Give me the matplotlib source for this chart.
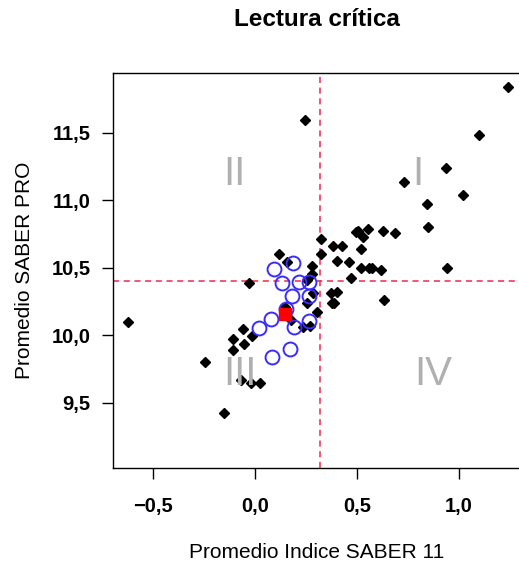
import matplotlib
matplotlib.use("Agg")
import matplotlib.pyplot as plt

# indice SABER 11 (x) y promedio SABER PRO (y) por programa
prog_x = [1.239, 0.245, 1.098, 0.936, 0.729, 1.021, 0.843, 0.851, 0.941,
          0.494, 0.507, 0.556, 0.531, 0.626, 0.686, 0.518, 0.324, 0.324,
          0.384, 0.425, 0.404, 0.462, 0.520, 0.560, 0.572, 0.618, 0.471,
          0.371, 0.404, 0.376, 0.387, 0.632, 0.280, 0.282, 0.257, 0.256,
          0.302, 0.119, 0.157, -0.028, 0.147, 0.175, 0.235, 0.270, -0.057,
          -0.016, -0.110, -0.110, -0.054, -0.246, -0.070, -0.021, 0.025,
          -0.150, -0.624, 0.286]
prog_y = [11.843, 11.596, 11.485, 11.238, 11.137, 11.041, 10.974, 10.800, 10.502,
          10.764, 10.776, 10.787, 10.732, 10.774, 10.757, 10.639, 10.716, 10.605,
          10.660, 10.660, 10.554, 10.542, 10.502, 10.498, 10.502, 10.485, 10.424,
          10.317, 10.322, 10.239, 10.243, 10.260, 10.512, 10.452, 10.409, 10.241,
          10.176, 10.600, 10.545, 10.392, 10.209, 10.117, 10.060, 10.072, 10.046,
          9.999, 9.970, 9.890, 9.936, 9.801, 9.667, 9.650, 9.650,
          9.428, 10.098, 10.317]

# programas resaltados (círculos azules)
sel_x = [0.185, 0.095, 0.132, 0.214, 0.263, 0.180, 0.266, 0.151, 0.078,
         0.018, 0.190, 0.266, 0.172, 0.085]
sel_y = [10.539, 10.490, 10.387, 10.396, 10.396, 10.295, 10.293, 10.194, 10.120,
         10.058, 10.061, 10.110, 9.900, 9.838]

# programa de referencia (cuadrado rojo)
ref_x = [0.148]
ref_y = [10.157]

# cortes de cuadrantes
corte_x = 0.319
corte_y = 10.406

quad_labels = ["I", "II", "III", "IV"]
quad_x = [0.799, -0.103, -0.074, 0.873]
quad_y = [11.196, 11.196, 9.715, 9.715]

x_ticks = [-0.5, 0.0, 0.5, 1.0]
x_ticklabels = ["\u22120,5", "0,0", "0,5", "1,0"]
y_ticks = [9.5, 10.0, 10.5, 11.0, 11.5]
y_ticklabels = ["9,5", "10,0", "10,5", "11,0", "11,5"]

plt.rcParams["font.family"] = ["Liberation Sans", "DejaVu Sans"]

W, H = 519, 569
fig = plt.figure(figsize=(W / 100, H / 100), dpi=100)
ax = fig.add_axes([113 / W, 1 - 468 / H, 410 / W, 395 / H])

ax.set_xlim(-0.697, 1.315)
ax.set_ylim(9.018, 11.944)

for q, qx, qy in zip(quad_labels, quad_x, quad_y):
    ax.text(qx, qy, q, fontsize=29, color="#b0b0b0", ha="center", va="center")

ax.axvline(corte_x, color="#f0284a", lw=1.1, ls=(0, (4, 3)), zorder=1)
ax.axhline(corte_y, color="#f0284a", lw=1.1, ls=(0, (4, 3)), zorder=1)

ax.plot(prog_x, prog_y, "D", color="black", ms=5.3, zorder=2)
ax.plot(sel_x, sel_y, "o", mfc="none", mec="#3a2cff", mew=1.4, ms=10, zorder=3)
ax.plot(ref_x, ref_y, "s", color="#ff0000", ms=9, zorder=4)

ax.set_xticks(x_ticks)
ax.set_xticklabels(x_ticklabels, fontsize=14.5, fontweight="bold")
ax.set_yticks(y_ticks)
ax.set_yticklabels(y_ticklabels, fontsize=14.5, fontweight="bold")
ax.tick_params(axis="x", length=8, width=1, pad=13)
ax.tick_params(axis="y", length=8, width=1, pad=8)
for side in ("left", "bottom", "top", "right"):
    ax.spines[side].set_linewidth(1)

fig.text(317 / W, 1 - 20 / H, "Lectura crítica", fontsize=17.5,
         fontweight="bold", ha="center", va="center")
fig.text(317 / W, 1 - 553 / H, "Promedio Indice SABER 11", fontsize=15,
         ha="center", va="center")
fig.text(25 / W, 1 - 270 / H, "Promedio SABER PRO", fontsize=15,
         ha="center", va="center", rotation=90)

fig.savefig("out.png", dpi=100)
